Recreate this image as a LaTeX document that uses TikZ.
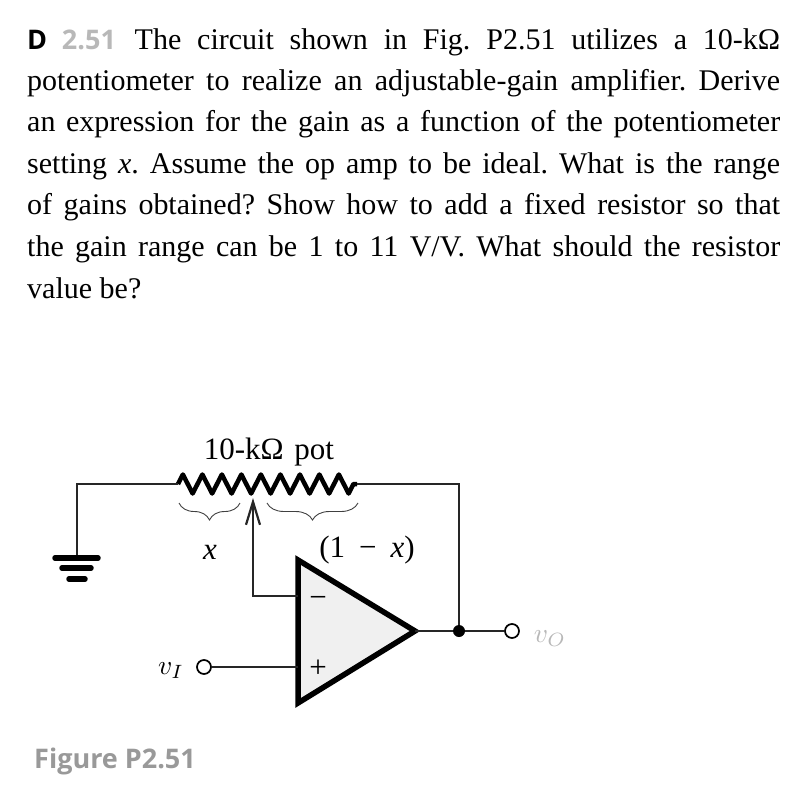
\documentclass[tikz,border=0pt]{standalone}
\usepackage{fontspec}
\setmainfont{Liberation Serif}
\newfontfamily\headfont{Open Sans}
\usetikzlibrary{arrows.meta,decorations.pathmorphing,decorations.pathreplacing}
\definecolor{headgray}{gray}{0.72}
\definecolor{figgray}{gray}{0.6}
\tikzset{
  wire/.style={line width=1.7pt,black!85},
  probline/.style={anchor=base west,inner sep=0pt,font=\fontsize{30}{36}\selectfont},
  lbl/.style={inner sep=0pt,font=\fontsize{31}{36}\selectfont},
  mathlbl/.style={inner sep=0pt,scale=2.75},
  term/.style={circle,draw,line width=1.7pt,fill=white,minimum size=14pt,inner sep=0pt},
  jct/.style={circle,fill=black,minimum size=12pt,inner sep=0pt},
  gndbar/.style={line width=5.5pt,line cap=round},
  brc/.style={line width=0.9pt,black!75,decorate,decoration={brace,mirror,amplitude=17pt}}
}
\newcommand{\probtext}[1]{\makebox[753pt][s]{#1}}
\frenchspacing
\begin{document}
\begin{tikzpicture}[x=1pt,y=-1pt]
  \useasboundingbox (0,0) rectangle (795,801);
  % problem text
  \node[probline] (line1) at (27,49) {\probtext{{\headfont\fontsize{27}{32}\selectfont\bfseries D \textcolor{headgray}{2.51}}\hspace{3pt} The circuit shown in Fig. P2.51 utilizes a 10-kΩ}};
  \node[probline] (line2) at (27,90) {\probtext{potentiometer to realize an adjustable-gain amplifier. Derive}};
  \node[probline] (line3) at (27,131) {\probtext{an expression for the gain as a function of the potentiometer}};
  \node[probline] (line4) at (27,173) {\probtext{setting \textit{x}. Assume the op amp to be ideal. What is the range}};
  \node[probline] (line5) at (27,214) {\probtext{of gains obtained? Show how to add a fixed resistor so that}};
  \node[probline] (line6) at (27,256) {\probtext{the gain range can be 1 to 11 V/V. What should the resistor}};
  \node[probline] (line7) at (27,298) {value be?};

  % pot
  \coordinate (potL) at (178,484);
  \coordinate (potR) at (357,484);
  \coordinate (gndtop) at (77,558);
  \coordinate (wiper) at (253,498);
  \node[lbl] (potlbl) at (269,452) {10-kΩ\hspace{3pt} pot};
  \draw[line width=4.5pt,line join=round,decorate,decoration={zigzag,segment length=19.5pt,amplitude=9.5pt}] (potL) -- (potR);
  \draw[brc] (179,503) -- (240,503);
  \draw[brc] (267,503) -- (358,503);
  \node[lbl] (xlbl) at (210,552) {\textit{x}};
  \node[lbl] (restlbl) at (367,550) {(1\hspace{14pt}−\hspace{14pt}\textit{x})};

  % ground
  \draw[wire] (potL) -| (gndtop);
  \draw[gndbar] (55,558) -- (98,558);
  \draw[gndbar] (62,568) -- (91,568);
  \draw[gndbar] (69,579) -- (85,579);

  % op amp
  \coordinate (ampT) at (298,560);
  \coordinate (ampB) at (298,703);
  \coordinate (ampO) at (415,631);
  \coordinate (ampM) at (298,596);
  \coordinate (ampP) at (298,667);
  \draw[line width=5.5pt,line join=miter,fill=gray!12] (ampT) -- (ampB) -- (ampO) -- cycle;
  \node[lbl] (minus) at (318,602) {−};
  \node[lbl] (plus) at (318,669) {+};

  % connections
  \node[jct] (outdot) at (459,631) {};
  \node[term] (vo) at (512,631) {};
  \node[term] (vi) at (204,667) {};
  \draw[wire] (ampO) -- (outdot) -- (vo);
  \draw[wire] (potR) -| (outdot);
  \draw[wire] (vi) -- (ampP);
  \draw[wire,-{Straight Barb[length=23pt,width=14pt,line width=2.2pt]}] (ampM) -| (wiper);
  \node[mathlbl] (vilbl) at (171,671) {$v_I$};
  \node[mathlbl,text=headgray] (volbl) at (550,639) {$v_O$};
  \node[anchor=base west,inner sep=0pt,text=figgray,font=\headfont\bfseries\fontsize{27}{30}\selectfont] (figlbl) at (34,768) {Figure P2.51};
\end{tikzpicture}
\end{document}
